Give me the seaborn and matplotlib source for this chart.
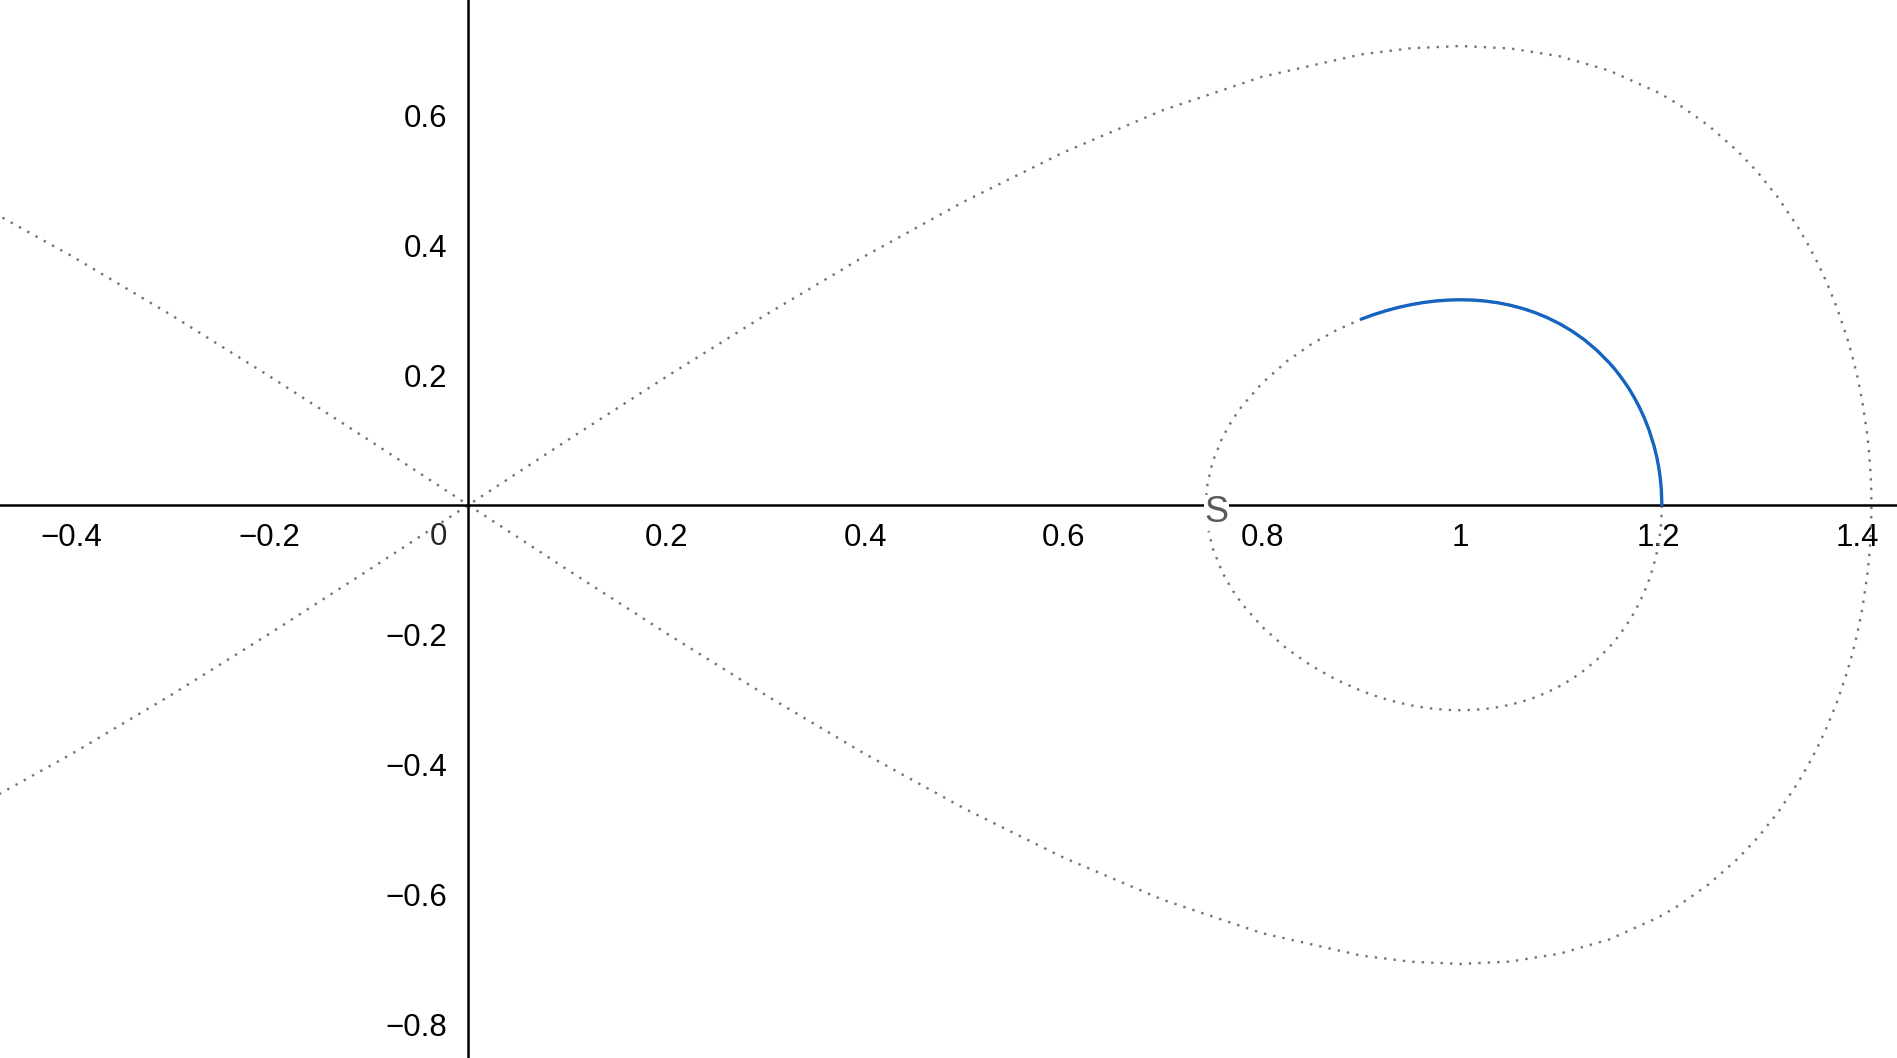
import numpy as np
import matplotlib
matplotlib.use("Agg")
import matplotlib.pyplot as plt
import seaborn as sns

sns.set_style("white")
plt.rcParams["font.family"] = ["Liberation Sans", "DejaVu Sans"]

# outer curve, upper-right branch through the origin
outer_x = [-0.48, -0.4, -0.3, -0.2, -0.1, 0.0, 0.1, 0.2, 0.3, 0.4, 0.5, 0.6,
           0.7, 0.8, 0.9, 0.95, 1.0, 1.05, 1.1, 1.15, 1.2, 1.22, 1.25, 1.28,
           1.3, 1.32, 1.34, 1.35, 1.36, 1.37, 1.38, 1.39, 1.395, 1.4, 1.405,
           1.41, 1.412, 1.4135, 1.414, 1.41421]
outer_y = [-0.4515, -0.3837, -0.2932, -0.1980, -0.0998, 0.0, 0.0998, 0.1980,
           0.2932, 0.3837, 0.4677, 0.5433, 0.6082, 0.6597, 0.6942, 0.7037,
           0.7071, 0.7034, 0.6913, 0.6693, 0.6350, 0.6170, 0.5846, 0.5443,
           0.5118, 0.4737, 0.4284, 0.4022, 0.3730, 0.3399, 0.3017, 0.2561,
           0.2292, 0.1980, 0.1601, 0.1088, 0.0790, 0.0449, 0.0246, 0.0]

# inner loop, upper half
inner_x = [0.7435, 0.744, 0.745, 0.75, 0.76, 0.77, 0.78, 0.8, 0.825, 0.85,
           0.875, 0.9, 0.9125, 0.925, 0.9375, 0.95, 0.9625, 0.975, 0.9875,
           1.0, 1.0125, 1.025, 1.0375, 1.05, 1.0625, 1.075, 1.0875, 1.1,
           1.1125, 1.125, 1.1375, 1.15, 1.155, 1.16, 1.165, 1.17, 1.175,
           1.18, 1.185, 1.19, 1.195, 1.1975, 1.1985, 1.2, 1.2015, 1.2025,
           1.203]
inner_y = [0.0, 0.0183, 0.0316, 0.0656, 0.1039, 0.1309, 0.1527, 0.1876,
           0.2214, 0.2480, 0.2693, 0.2863, 0.2933, 0.2993, 0.3044, 0.3086,
           0.3119, 0.3143, 0.3157, 0.3162, 0.3157, 0.3142, 0.3116, 0.3078,
           0.3028, 0.2965, 0.2886, 0.2792, 0.2679, 0.2544, 0.2383, 0.2191,
           0.2103, 0.2007, 0.1902, 0.1788, 0.1660, 0.1517, 0.1353, 0.1159,
           0.0916, 0.0763, 0.0691, 0.0566, 0.0401, 0.0232, 0.0]

arc_start = 0.9
point_label = "S"
point_pos = (0.754, -0.012)

xticks = [-0.4, -0.2, 0.2, 0.4, 0.6, 0.8, 1.0, 1.2, 1.4]
yticks = [-0.8, -0.6, -0.4, -0.2, 0.2, 0.4, 0.6]

fig = plt.figure(figsize=(18.97, 10.58), dpi=100)
ax = fig.add_axes([0, 0, 1, 1])

grey = "#727272"
dots = (0, (1, 3.0))

# full outer curve: upper branch then mirrored lower branch
ox = np.array(outer_x)
oy = np.array(outer_y)
sns.lineplot(x=np.concatenate([ox, ox[::-1]]), y=np.concatenate([oy, -oy[::-1]]),
             sort=False, estimator=None, ax=ax, color=grey, lw=1.7,
             linestyle=dots)

ix = np.array(inner_x)
iy = np.array(inner_y)
sns.lineplot(x=np.concatenate([ix, ix[::-1]]), y=np.concatenate([iy, -iy[::-1]]),
             sort=False, estimator=None, ax=ax, color=grey, lw=1.7,
             linestyle=dots)

mask = ix >= arc_start
sns.lineplot(x=ix[mask], y=iy[mask], sort=False, estimator=None, ax=ax,
             color="#1565c0", lw=2.4, zorder=4)

ax.set_xlim(-0.472, 1.440)
ax.set_ylim(-0.852, 0.778)

for s in ["top", "right"]:
    ax.spines[s].set_visible(False)
for s in ["left", "bottom"]:
    ax.spines[s].set_position("zero")
    ax.spines[s].set_linewidth(1.8)
    ax.spines[s].set_color("black")
    ax.spines[s].set_zorder(3)

ax.set_xticks(xticks)
ax.set_xticklabels([f"{t:g}".replace("-", "\u2212") for t in xticks])
ax.set_yticks(yticks)
ax.set_yticklabels([f"{t:g}".replace("-", "\u2212") for t in yticks])
ax.tick_params(axis="x", direction="out", length=5, width=1.8, pad=8,
               labelsize=22.5, colors="black")
ax.tick_params(axis="y", direction="out", length=5, width=1.8, pad=10,
               labelsize=22.5, colors="black")

ax.annotate("0", xy=(0, 0), xytext=(-15, -12), textcoords="offset points",
            ha="right", va="top", fontsize=22.5)
ax.text(point_pos[0], point_pos[1], point_label, ha="center", va="center",
        fontsize=26, color="#5a5a5a", zorder=5,
        bbox=dict(facecolor="white", edgecolor="none", pad=0.3))

if ax.get_legend() is not None:
    ax.get_legend().remove()

fig.savefig("out.png", dpi=100, facecolor="white")
